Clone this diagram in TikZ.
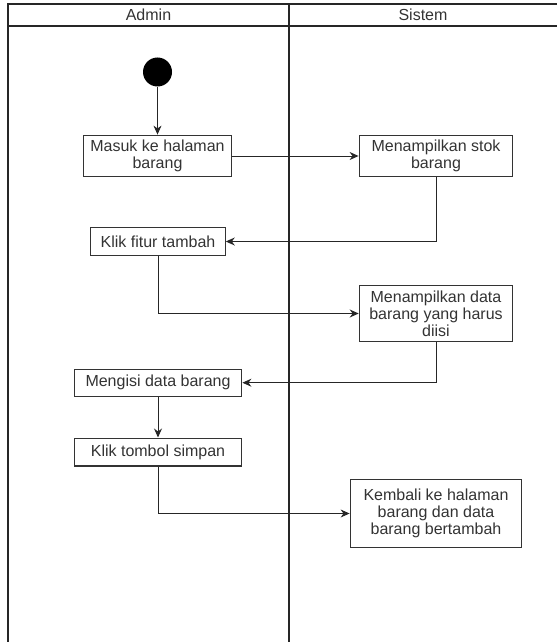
\documentclass[tikz,border=0pt]{standalone}
\usepackage{fontspec}
\setmainfont{Liberation Sans}
\usepackage{tikz}
\usetikzlibrary{arrows.meta}

\begin{document}
\begin{tikzpicture}[x=0.5pt,y=-0.5pt,
        aksi/.style={draw=black!80,text=black!80,line width=0.6pt,align=center,inner sep=0pt,font=\fontsize{8}{8.6}\selectfont},
        judul/.style={text=black!80,font=\fontsize{8}{9}\selectfont},
        alur/.style={draw=black!85,line width=0.5pt,-{Stealth[length=4.5pt,width=4pt]}},
        lajur/.style={draw=black!85,line width=0.8pt}]
            \useasboundingbox (0,0) rectangle (557,642);

            % lajur Admin dan Sistem
            \draw[lajur] (557,4) -- (8,4) -- (8,642);
            \draw[lajur] (8,26) -- (557,26);
            \draw[lajur] (289,4) -- (289,642);
            \node[judul] (admin) at (148.5,15) {Admin};
            \node[judul] (sistem) at (423,15) {Sistem};

            % aktivitas
            \node[circle,fill=black,minimum size=14.5pt,inner sep=0pt] (mulai) at (157.5,72) {};
            \node[aksi,minimum width=74.2pt,minimum height=20.8pt] (masuk) at (157.5,156) {Masuk ke halaman\\barang};
            \node[aksi,minimum width=76.8pt,minimum height=20.8pt] (stok) at (436,156) {Menampilkan stok\\barang};
            \node[aksi,minimum width=67.2pt,minimum height=13.8pt] (fitur) at (158,241.5) {Klik fitur tambah};
            \node[aksi,minimum width=76.7pt,minimum height=28.3pt] (data) at (436,313.5) {Menampilkan data\\barang yang harus\\diisi};
            \node[aksi,minimum width=83.8pt,minimum height=13.4pt] (isi) at (158,382.7) {Mengisi data barang};
            \node[aksi,minimum width=83.8pt,minimum height=13.9pt] (simpan) at (158,452) {Klik tombol simpan};
            \node[aksi,minimum width=85.8pt,minimum height=34.2pt] (kembali) at (436,513.5) {Kembali ke halaman\\barang dan data\\barang bertambah};

            \draw[alur] (mulai) -- (masuk);
            \draw[alur] (masuk) -- (stok);
            \draw[alur] (stok) |- (fitur);
            \draw[alur] (fitur) |- (data);
            \draw[alur] (data) |- (isi);
            \draw[alur] (isi) -- (simpan);
            \draw[alur] (simpan) |- (kembali);

        \end{tikzpicture}
\end{document}
